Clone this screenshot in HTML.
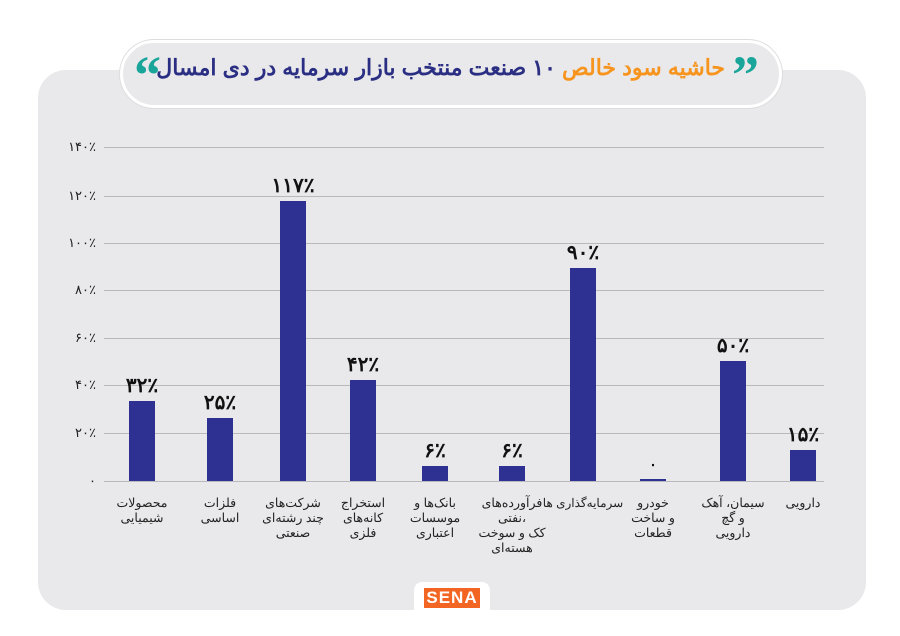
<!DOCTYPE html>
<html><head><meta charset="utf-8"><style>
body{margin:0;width:900px;height:636px;background:#fff;position:relative;overflow:hidden;font-family:"Liberation Sans","Noto Sans CJK SC",sans-serif;}
.panel{position:absolute;left:38px;top:70px;width:828px;height:540px;background:#e9e8ea;border-radius:28px;}
.pill{position:absolute;left:120px;top:40px;width:656px;height:62px;background:#e9e8ea;border:3px solid #fff;border-radius:34px;box-shadow:0 0 0 1px #ddd;}
.title{position:absolute;left:165px;top:55px;width:560px;text-align:center;font-weight:bold;font-size:22px;color:#2b2f83;direction:rtl;white-space:nowrap;}
.title .o{color:#f7941d}
.q{color:#1aa59a;font-size:54px;font-weight:bold;font-family:"Liberation Serif",serif;position:absolute;top:48px;line-height:54px;}
.grid{position:absolute;left:104px;width:720px;height:1px;background:#b9b8bd;}
.yl{position:absolute;left:50px;width:46px;text-align:right;font-size:13px;color:#222;}
.bar{position:absolute;width:26px;background:#2e3192;}
.vl{position:absolute;width:80px;text-align:center;font-weight:bold;font-size:20px;color:#111;}
.xl{position:absolute;width:80px;text-align:center;font-size:12.5px;line-height:15px;color:#222;direction:rtl;}
.logo{position:absolute;left:414px;top:582px;width:76px;height:40px;background:#fff;border-radius:8px;}
.logo span{position:absolute;left:10px;top:6px;width:56px;height:20px;background:#f26522;color:#fff;font-weight:bold;font-size:17px;text-align:center;line-height:20px;letter-spacing:1px;}
</style></head><body>
<div class="panel"></div>
<div class="pill"></div>
<div class="q" style="left:732px;">”</div>
<div class="q" style="left:134px;">“</div>
<div class="title"><span class="o">حاشیه سود خالص</span> ۱۰ صنعت منتخب بازار سرمایه در دی امسال</div>

<div class="grid" style="top:147px"></div><div class="yl" style="top:139px">۱۴۰٪</div>
<div class="grid" style="top:196px"></div><div class="yl" style="top:188px">۱۲۰٪</div>
<div class="grid" style="top:243px"></div><div class="yl" style="top:235px">۱۰۰٪</div>
<div class="grid" style="top:290px"></div><div class="yl" style="top:282px">۸۰٪</div>
<div class="grid" style="top:338px"></div><div class="yl" style="top:330px">۶۰٪</div>
<div class="grid" style="top:385px"></div><div class="yl" style="top:377px">۴۰٪</div>
<div class="grid" style="top:433px"></div><div class="yl" style="top:425px">۲۰٪</div>
<div class="grid" style="top:481px"></div><div class="yl" style="top:473px">۰</div>

<div class="bar" style="left:129px;top:401px;height:80px"></div><div class="vl" style="left:102px;top:373px">۳۲٪</div>
<div class="bar" style="left:207px;top:418px;height:63px"></div><div class="vl" style="left:180px;top:390px">۲۵٪</div>
<div class="bar" style="left:280px;top:201px;height:280px"></div><div class="vl" style="left:253px;top:173px">۱۱۷٪</div>
<div class="bar" style="left:350px;top:380px;height:101px"></div><div class="vl" style="left:323px;top:352px">۴۲٪</div>
<div class="bar" style="left:422px;top:466px;height:15px"></div><div class="vl" style="left:395px;top:438px">۶٪</div>
<div class="bar" style="left:499px;top:466px;height:15px"></div><div class="vl" style="left:472px;top:438px">۶٪</div>
<div class="bar" style="left:570px;top:268px;height:213px"></div><div class="vl" style="left:543px;top:240px">۹۰٪</div>
<div class="bar" style="left:640px;top:479px;height:2px"></div><div class="vl" style="left:613px;top:456px;font-size:14px">۰</div>
<div class="bar" style="left:720px;top:361px;height:120px"></div><div class="vl" style="left:693px;top:333px">۵۰٪</div>
<div class="bar" style="left:790px;top:450px;height:31px"></div><div class="vl" style="left:763px;top:422px">۱۵٪</div>

<div class="xl" style="left:102px;top:496px">محصولات<br>شیمیایی</div>
<div class="xl" style="left:180px;top:496px">فلزات<br>اساسی</div>
<div class="xl" style="left:253px;top:496px">شرکت‌های<br>چند رشته‌ای<br>صنعتی</div>
<div class="xl" style="left:323px;top:496px">استخراج<br>کانه‌های<br>فلزی</div>
<div class="xl" style="left:395px;top:496px">بانک‌ها و<br>موسسات<br>اعتباری</div>
<div class="xl" style="left:472px;top:496px">فرآورده‌های<br>،نفتی<br>کک و سوخت<br>هسته‌ای</div>
<div class="xl" style="left:533px;top:496px;width:100px;font-size:12px;white-space:nowrap">سرمایه‌گذاری ها</div>
<div class="xl" style="left:613px;top:496px">خودرو<br>و ساخت<br>قطعات</div>
<div class="xl" style="left:693px;top:496px">سیمان، آهک<br>و گچ<br>دارویی</div>
<div class="xl" style="left:763px;top:496px">دارویی</div>

<div class="logo"><span>SENA</span></div>
</body></html>
